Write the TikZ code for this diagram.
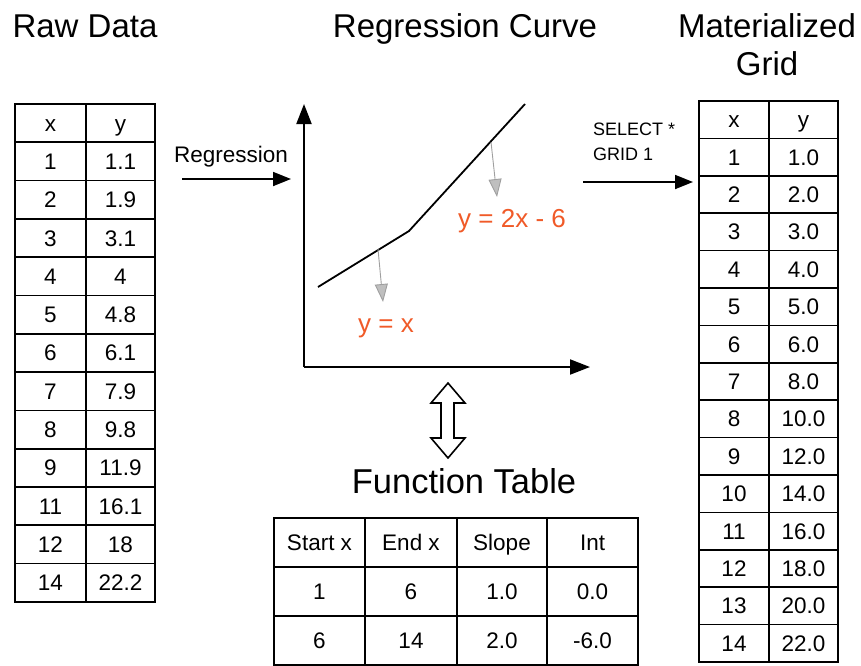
\documentclass[tikz,border=0pt]{standalone}
\usepackage{fontspec}
\setmainfont{Liberation Sans}
\usetikzlibrary{arrows.meta}
\definecolor{eqorange}{RGB}{240,90,40}
\tikzset{
 cell/.style={draw, line width=1.7pt, inner sep=0pt, font=\fontsize{22.5}{26}\selectfont, text height=16pt, text depth=0pt},
 title/.style={font=\fontsize{33}{38}\selectfont, anchor=base},
 lbl/.style={font=\fontsize{22.5}{26}\selectfont, anchor=base west, inner sep=0pt},
 smalllbl/.style={font=\fontsize{18}{21}\selectfont, anchor=base west, inner sep=0pt},
 eq/.style={font=\fontsize{26}{30}\selectfont, text=eqorange, anchor=base west, inner sep=0pt},
 flow/.style={line width=1.8pt, -{Triangle[length=18pt,width=14pt]}},
 axis/.style={line width=2pt, -{Triangle[length=20pt,width=15pt]}},
 pointer/.style={draw=gray!75, line width=0.9pt, -{Triangle[length=18pt,width=13pt,fill=gray!50]}},
}
\begin{document}
\begin{tikzpicture}[x=1pt,y=-1pt]
\useasboundingbox (0,0) rectangle (861,665);
% titles
\node[title] (trd) at (85,37) {Raw Data};
\node[title] (trc) at (465,37) {Regression Curve};
\node[title] (tmg1) at (767,37) {Materialized};
\node[title] (tmg2) at (767,75) {Grid};
\node[title, font=\fontsize{34.5}{40}\selectfont] (tft) at (464,493) {Function Table};
% raw data table
\foreach \i/\a/\b in {0/x/y,1/1/1.1,2/2/1.9,3/3/3.1,4/4/4,5/5/4.8,6/6/6.1,7/7/7.9,8/8/9.8,9/9/11.9,10/11/16.1,11/12/18,12/14/22.2}{
  \node[cell, minimum width=71pt, minimum height=38.3pt] (rdx\i) at (50.5,{104+38.3*(\i+0.5)}) {\a};
  \node[cell, minimum width=69pt, minimum height=38.3pt] (rdy\i) at (120.5,{104+38.3*(\i+0.5)}) {\b};
}
% materialized grid
\foreach \i/\a/\b in {0/x/y,1/1/1.0,2/2/2.0,3/3/3.0,4/4/4.0,5/5/5.0,6/6/6.0,7/7/8.0,8/8/10.0,9/9/12.0,10/10/14.0,11/11/16.0,12/12/18.0,13/13/20.0,14/14/22.0}{
  \node[cell, minimum width=70pt, minimum height=37.4pt] (mgx\i) at (734,{101+37.4*(\i+0.5)}) {\a};
  \node[cell, minimum width=69pt, minimum height=37.4pt] (mgy\i) at (803.5,{101+37.4*(\i+0.5)}) {\b};
}
% function table
\foreach \i/\a/\b/\c/\d in {0/Start x/End x/Slope/Int,1/1/6/1.0/0.0,2/6/14/2.0/-6.0}{
  \node[cell, minimum width=91pt, minimum height=49pt] (fa\i) at (319.5,{518+49*(\i+0.5)}) {\a};
  \node[cell, minimum width=92pt, minimum height=49pt] (fb\i) at (411,{518+49*(\i+0.5)}) {\b};
  \node[cell, minimum width=90pt, minimum height=49pt] (fc\i) at (502,{518+49*(\i+0.5)}) {\c};
  \node[cell, minimum width=91pt, minimum height=49pt] (fd\i) at (592.5,{518+49*(\i+0.5)}) {\d};
}
% regression arrow
\node[lbl] (lreg) at (174,162) {Regression};
\coordinate (ra) at (182,179);
\coordinate (rb) at (291,179);
\draw[flow] (ra) -- (rb);
% select arrow
\node[smalllbl] (lsel) at (593,135) {SELECT *};
\node[smalllbl] (lgrid) at (593,160) {GRID 1};
\coordinate (sa) at (583,182);
\coordinate (sb) at (693,182);
\draw[flow] (sa) -- (sb);
% axes
\coordinate (O) at (304,367);
\coordinate (ytip) at (304,104);
\coordinate (xtip) at (590,367);
\draw[axis] (O) -- (ytip);
\draw[axis] (O) -- (xtip);
% curve
\coordinate (c0) at (318,287);
\coordinate (c1) at (409,231);
\coordinate (c2) at (525,104);
\draw[line width=1.8pt, line join=miter] (c0) -- (c1) -- (c2);
% equations
\node[eq] (eq1) at (358,332) {y = x};
\node[eq] (eq2) at (458,227) {y = 2x - 6};
\coordinate (p1s) at (378,249);
\coordinate (p1e) at (383,302);
\coordinate (p2s) at (491,142);
\coordinate (p2e) at (497,197);
\draw[pointer] (p1s) -- (p1e);
\draw[pointer] (p2s) -- (p2e);
% double arrow
\draw[line width=1.6pt, line join=miter] (448,383) -- (465,403) -- (454,403) -- (454,438) -- (465,438) -- (448,458) -- (431,438) -- (441,438) -- (441,403) -- (431,403) -- cycle;
\end{tikzpicture}
\end{document}
